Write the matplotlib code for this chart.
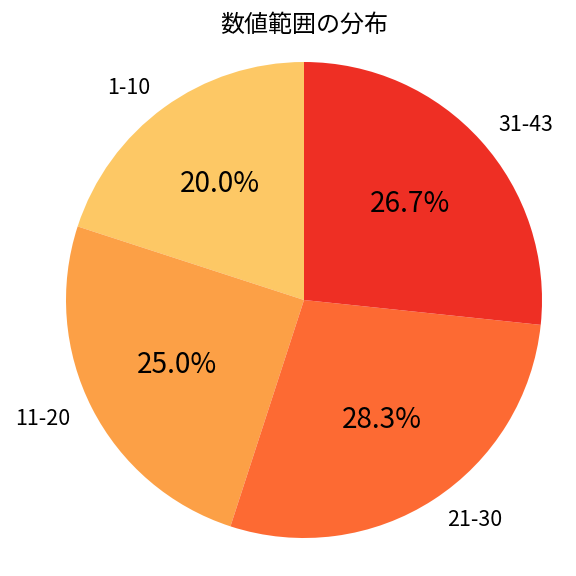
import matplotlib.pyplot as plt

plt.rcParams['font.family'] = ['Noto Sans CJK JP', 'DejaVu Sans']

labels = ['1-10', '11-20', '21-30', '31-43']
counts = [12, 15, 17, 16]
colors = ['#FDC865', '#FCA046', '#FD6A33', '#EE2F24']

fig = plt.figure(figsize=(6, 6), dpi=96)
ax = fig.add_axes([66/576, 38/576, 476/576, 476/576])

wedges, texts, autotexts = ax.pie(counts, labels=labels, colors=colors, autopct='%1.1f%%',
                                  startangle=90, textprops={'fontsize': 16})
for t in autotexts:
    t.set_fontsize(21)
ax.set_xlim(-1, 1)
ax.set_ylim(-1, 1)
ax.set_aspect('equal')

fig.text(304/576, 1 - 25/576, '数値範囲の分布', ha='center', va='center', fontsize=18)

plt.savefig('out.png', dpi=96)
